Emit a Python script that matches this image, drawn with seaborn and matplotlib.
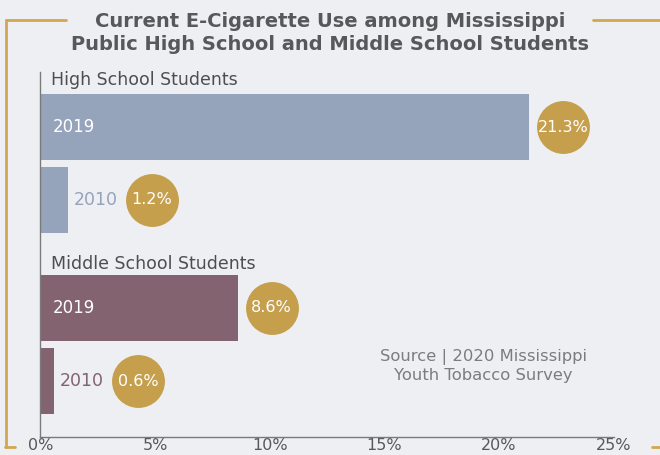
import matplotlib
matplotlib.use("Agg")
import matplotlib.pyplot as plt
import pandas as pd
import seaborn as sns
from matplotlib.lines import Line2D

# data
groups = ["High School Students", "Middle School Students"]
years = ["2019", "2010"]
hs_values = [21.3, 1.2]
ms_values = [8.6, 0.6]
x_ticks = [0, 5, 10, 15, 20, 25]
title_text = "Current E-Cigarette Use among Mississippi\nPublic High School and Middle School Students"
source_text = "Source | 2020 Mississippi\nYouth Tobacco Survey"

BG = "#eeeff3"
GOLD = "#c69f4d"
FRAME = "#d2a751"
TEXT = "#58585a"
BAR_COLORS = {"High School Students": "#95a3bb", "Middle School Students": "#83636f"}

sns.set_theme(style="white")
plt.rcParams["font.family"] = ["DejaVu Sans"]

# build a tidy table; y position is the row slot (pixel-like units, top down)
rows = []
for g_idx, (group, vals) in enumerate(zip(groups, [hs_values, ms_values])):
    for y_idx, (year, v) in enumerate(zip(years, vals)):
        rows.append({"group": group, "year": year, "value": v,
                     "pos": 127 + g_idx * 181 + y_idx * 73})
df = pd.DataFrame(rows)

fig = plt.figure(figsize=(6.6, 4.55), dpi=100)
fig.patch.set_facecolor(BG)
ax = fig.add_axes([40.4 / 660, 18 / 455, (613.6 - 40.4) / 660, (437 - 72) / 455])
ax.set_facecolor(BG)

sns.barplot(data=df, x="value", y="pos", hue="group", palette=BAR_COLORS,
            orient="y", native_scale=True, width=66 / 73, dodge=False,
            saturation=1, legend=False, linewidth=0, ax=ax)

ax.set_xlim(0, 25)
ax.set_ylim(437, 72)
ax.set_xlabel("")
ax.set_ylabel("")
ax.set_yticks([])
ax.set_xticks(x_ticks)
ax.set_xticklabels([f"{t}%" for t in x_ticks], fontsize=11.5, color=TEXT)
ax.tick_params(axis="x", direction="in", length=6.5, width=1, color="#7a7a7a", pad=1)
for side in ["top", "right"]:
    ax.spines[side].set_visible(False)
ax.spines["bottom"].set_color("#7a7a7a")
ax.spines["left"].set_color("#7a7a7a")
ax.spines["bottom"].set_linewidth(1)
ax.spines["left"].set_linewidth(1)

px = 25 / (613.6 - 40.4)  # data units per pixel

for _, r in df.iterrows():
    color = BAR_COLORS[r["group"]]
    if r["year"] == "2019":
        ax.text(12 * px, r["pos"], r["year"], color="white", fontsize=12,
                va="center", ha="left")
        cx = r["value"] + 34 * px
    else:
        ax.text(r["value"] + 6 * px, r["pos"], r["year"], color=color, fontsize=12.5,
                va="center", ha="left")
        cx = r["value"] + 84 * px
    ax.scatter([cx], [r["pos"]], s=1450, color=GOLD, zorder=3, linewidths=0, clip_on=False)
    ax.text(cx, r["pos"], f"{r['value']}%", color="white", fontsize=11.5,
            ha="center", va="center", zorder=4)

for g_idx, group in enumerate(groups):
    ax.text(11 * px, 80 + g_idx * 184, group, color="#4e4e50", fontsize=12.5,
            va="center", ha="left")

ax.text(483 / 660, 1 - 366 / 455, source_text, transform=fig.transFigure,
        ha="center", va="center", fontsize=11.8, color="#7c7c80", linespacing=1.2)

fig.text(0.5, 1 - 33 / 455, title_text, ha="center", va="center", fontsize=14,
         fontweight="bold", color=TEXT, linespacing=1.32)

# gold bracket frame
def fline(x0, y0, x1, y1):
    fig.add_artist(Line2D([x0 / 660, x1 / 660], [1 - y0 / 455, 1 - y1 / 455],
                          color=FRAME, linewidth=2, transform=fig.transFigure))

fline(6, 20, 66, 20)
fline(6, 20, 6, 447)
fline(5, 447, 15, 447)
fline(593, 20, 660, 20)
fline(652, 447, 660, 447)

fig.savefig("out.png", dpi=100, facecolor=BG)
